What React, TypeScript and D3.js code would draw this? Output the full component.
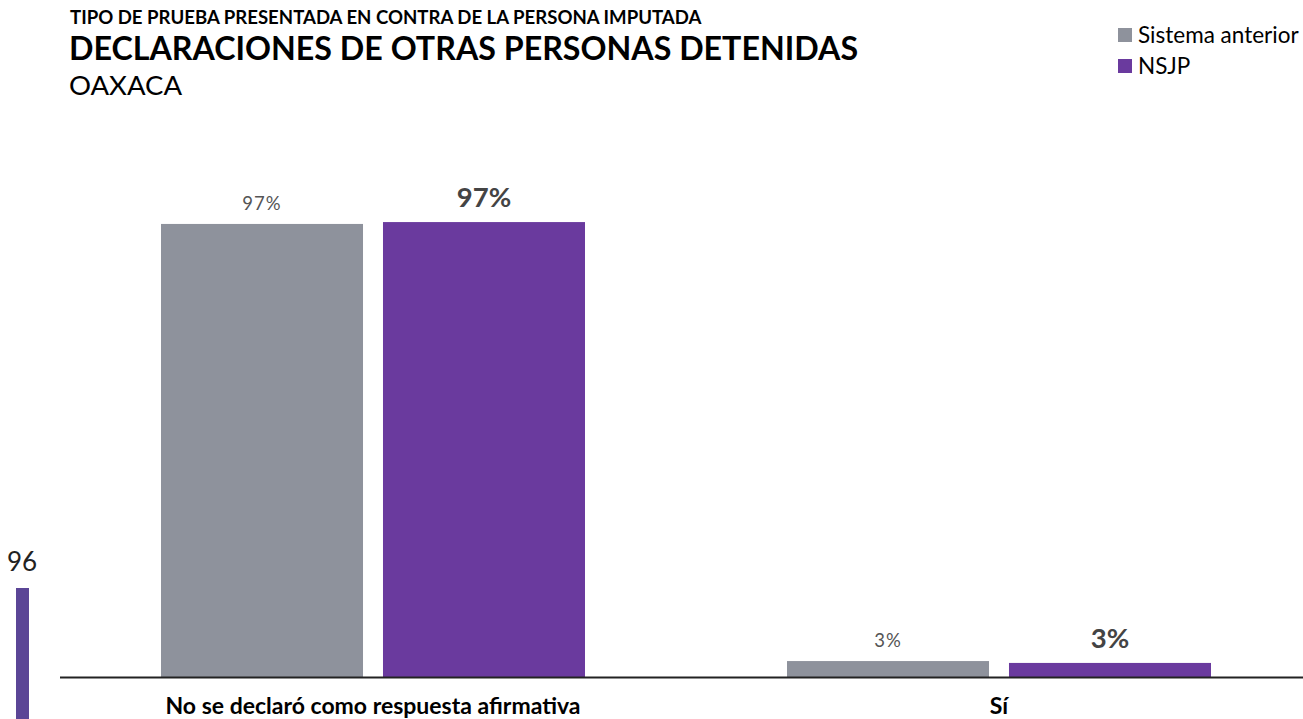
import React from "react";
import * as d3 from "d3";

const categories = ["No se declaró como respuesta afirmativa", "Sí"];
const series = ["Sistema anterior", "NSJP"];
const sistemaAnterior = [96.6, 3.4];
const nsjp = [97.0, 3.0];
const valueLabels = [["97%", "97%"], ["3%", "3%"]];
const colors = ["#8e929c", "#6a3a9e"];

const W = 1303;
const H = 719;

export default function App() {
  const x0 = d3.scaleBand<string>().domain(categories).range([60, 1312]).padding(0);
  const x1 = d3
    .scaleBand<string>()
    .domain(series)
    .range([0, x0.bandwidth()])
    .paddingInner(0.09)
    .paddingOuter(0.455);
  const y = d3.scaleLinear().domain([0, 100]).range([677, 208]);
  const values = [sistemaAnterior, nsjp];
  const font = "Lato, 'Open Sans', sans-serif";

  return (
    <svg
      width={W}
      height={H}
      style={{ position: "absolute", left: 0, top: 0, fontFamily: font }}
    >
      <rect width={W} height={H} fill="#fff" />
      <text x={70} y={24} fontSize={18.6} fontWeight={700} fill="#000">
        TIPO DE PRUEBA PRESENTADA EN CONTRA DE LA PERSONA IMPUTADA
      </text>
      <text x={69} y={60} fontSize={32.2} fontWeight={700} fill="#000">
        DECLARACIONES DE OTRAS PERSONAS DETENIDAS
      </text>
      <text x={69} y={95} fontSize={27.5} fill="#000">
        OAXACA
      </text>

      {series.map((s, i) => (
        <g key={s} transform={`translate(1118, ${28 + i * 31})`}>
          <rect x={0} y={0} width={14} height={14} fill={colors[i]} />
          <text x={20} y={15} fontSize={22.5} fill="#000">
            {s}
          </text>
        </g>
      ))}

      {/* stray element at left */}
      <text x={22} y={571} fontSize={26} textAnchor="middle" fill="#222">
        96
      </text>
      <rect x={16} y={588} width={13} height={131} fill="#5b4596" />

      {categories.map((c, ci) => (
        <g key={c} transform={`translate(${x0(c)},0)`}>
          {series.map((s, si) => {
            const v = values[si][ci];
            const bx = x1(s)!;
            const bw = x1.bandwidth();
            return (
              <g key={s}>
                <rect x={bx} y={y(v)} width={bw} height={y(0) - y(v)} fill={colors[si]} />
                {si === 0 ? (
                  <text
                    x={bx + bw / 2}
                    y={y(v) - 14}
                    fontSize={18.5}
                    textAnchor="middle"
                    fill="#555"
                    letterSpacing={1}
                  >
                    {valueLabels[ci][si]}
                  </text>
                ) : (
                  <text
                    x={bx + bw / 2}
                    y={y(v) - 15}
                    fontSize={27.5}
                    fontWeight={700}
                    textAnchor="middle"
                    fill="#444"
                  >
                    {valueLabels[ci][si]}
                  </text>
                )}
              </g>
            );
          })}
          <text
            x={x0.bandwidth() / 2}
            y={714}
            fontSize={23}
            fontWeight={700}
            textAnchor="middle"
            fill="#000"
          >
            {c}
          </text>
        </g>
      ))}
      <line x1={60} x2={W} y1={677.5} y2={677.5} stroke="#222" strokeWidth={2} />
    </svg>
  );
}
